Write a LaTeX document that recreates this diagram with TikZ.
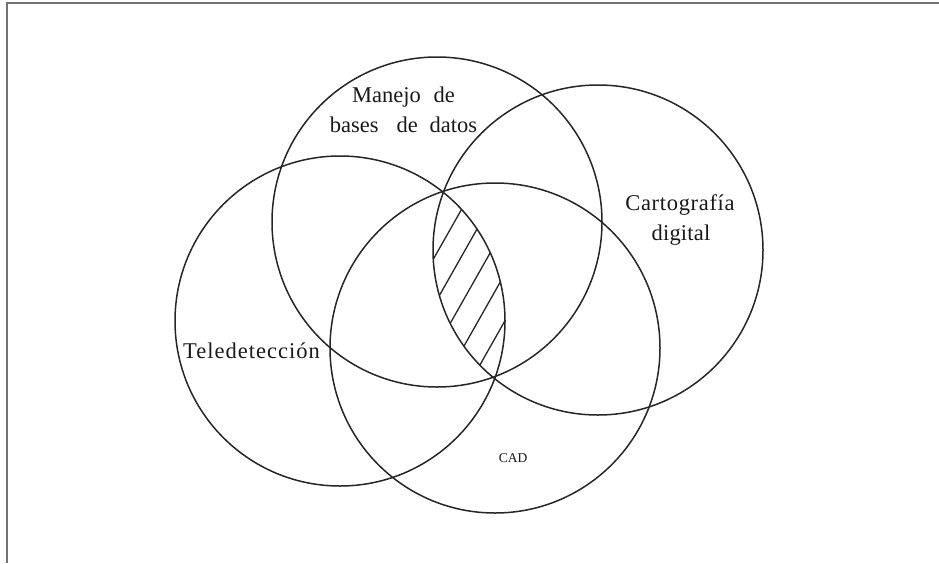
\documentclass[tikz,border=0pt]{standalone}
\usepackage{fontspec}
\setmainfont{Liberation Serif}
\begin{document}
\begin{tikzpicture}[x=1pt,y=-1pt,
  frameline/.style={draw=black!55,line width=1.6pt},
  setcircle/.style={draw=black!85,line width=1.5pt},
  hatchline/.style={draw=black!85,line width=1.3pt},
  lbl/.style={font=\fontsize{22.5}{30}\selectfont,inner sep=0pt,anchor=base,text=black!90},
  smalllbl/.style={font=\fontsize{13.5}{15}\selectfont,inner sep=0pt,anchor=base,text=black!90}]
\useasboundingbox (0,0) rectangle (939,563);
% frame (top and left only)
\coordinate (f0) at (7,3);
\coordinate (f1) at (939,3);
\coordinate (f2) at (7,563);
\draw[frameline] (f1) -- (f0) -- (f2);
% circle centres
\coordinate (A) at (437,222);
\coordinate (B) at (598,250);
\coordinate (C) at (340,321);
\coordinate (D) at (495,348);
% hatching in the intersection
\begin{scope}
  \clip (B) circle[radius=165pt];
  \clip (C) circle[radius=165pt];
  \foreach \c in {1024,1071,1118,1165,1212}{
    \draw[hatchline] (400,{\c-1.765*400}) -- (540,{\c-1.765*540});
  }
\end{scope}
% circles
\draw[setcircle] (A) circle[radius=165pt];
\draw[setcircle] (B) circle[radius=165pt];
\draw[setcircle] (C) circle[radius=165pt];
\draw[setcircle] (D) circle[radius=165pt];
% labels
\node[lbl] (manejo) at (403.5,102) {Manejo\hspace{13pt}de};
\node[lbl] (bases) at (403.5,132) {bases\hspace{18pt}de\hspace{12pt}datos};
\node[lbl] (carto) at (680,210) {\addfontfeature{LetterSpace=3}Cartografía};
\node[lbl] (digital) at (681,240) {\addfontfeature{LetterSpace=1}digital};
\node[lbl] (tele) at (251.5,358) {\addfontfeature{LetterSpace=4.5}Teledetección};
\node[smalllbl] (cad) at (513,462) {CAD};
\end{tikzpicture}
\end{document}
